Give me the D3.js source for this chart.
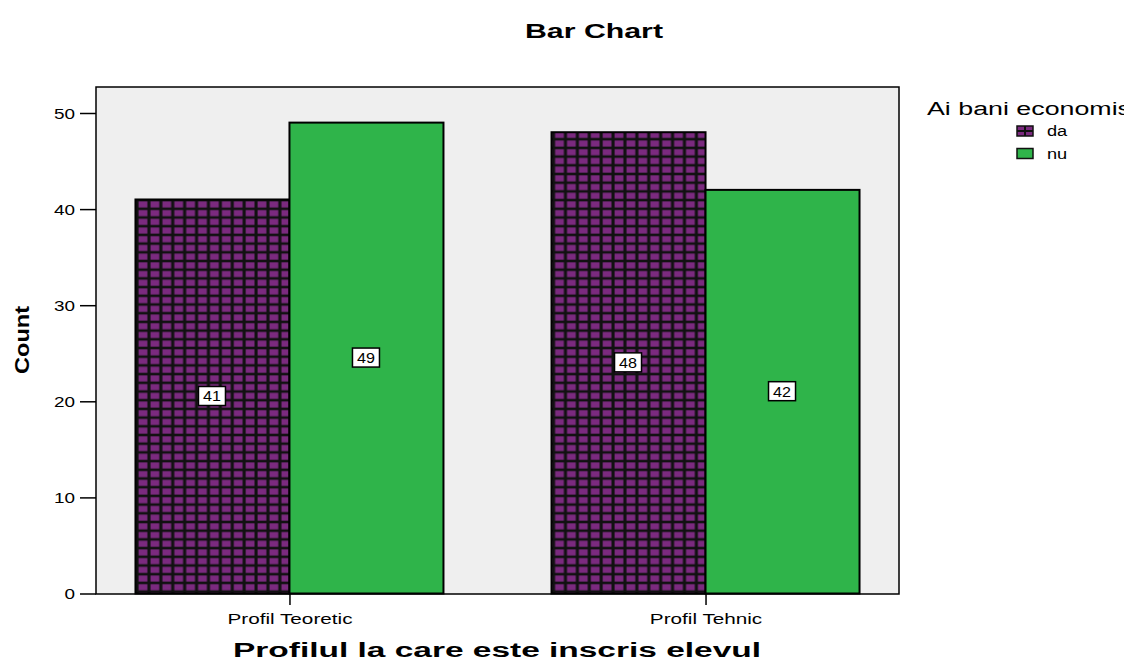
<!DOCTYPE html>
<html><head><meta charset="utf-8">
<script src="https://cdn.jsdelivr.net/npm/d3@7"></script>
<style>body{margin:0;background:#fff}svg{display:block}text{font-family:"Liberation Sans",Arial,sans-serif}</style>
</head><body>
<svg id="c" width="1124" height="660"></svg>
<script>
const categories = ["Profil Teoretic", "Profil Tehnic"];
const seriesNames = ["da", "nu"];
const daValues = [41, 48];
const nuValues = [49, 42];
const yTicks = [0, 10, 20, 30, 40, 50];

const svg = d3.select("#c");
const L = 96, R = 899, T = 87, B = 594;

function stretch(sel, f) {
  sel.each(function(){
    const w = this.getComputedTextLength();
    d3.select(this).attr("textLength", w * f).attr("lengthAdjust", "spacingAndGlyphs");
  });
}
function fitTo(sel, w) {
  sel.attr("textLength", w).attr("lengthAdjust", "spacingAndGlyphs");
}

const defs = svg.append("defs");
const pat = defs.append("pattern").attr("id","grid").attr("patternUnits","userSpaceOnUse")
  .attr("width",11.9).attr("height",8.7).attr("x",137).attr("y",0);
pat.append("rect").attr("width",11.9).attr("height",8.7).attr("fill","#111");
pat.append("rect").attr("x",1.6).attr("y",1.3).attr("width",8.8).attr("height",6.1).attr("fill","#7b2a7f");

const y = d3.scaleLinear().domain([0, 50]).range([B - 0.5, 113]);
const x = d3.scalePoint().domain(categories).range([L, R]).padding(0.465);
const xs = d3.scaleBand().domain(seriesNames).range([-154, 154]).padding(0);

svg.append("rect").attr("x",L).attr("y",T).attr("width",R-L).attr("height",B-T)
  .attr("fill","#efefef").attr("stroke","#000").attr("stroke-width",1.5);

const data = [];
categories.forEach((c,i)=>{
  data.push({cat:c, s:"da", v:daValues[i]});
  data.push({cat:c, s:"nu", v:nuValues[i]});
});

svg.append("g").selectAll("rect").data(data).join("rect")
  .attr("x", d => x(d.cat) + xs(d.s))
  .attr("y", d => y(d.v))
  .attr("width", xs.bandwidth())
  .attr("height", d => y(0) - y(d.v))
  .attr("fill", d => d.s === "da" ? "url(#grid)" : "#2fb44a")
  .attr("stroke", "#000").attr("stroke-width", 2);

// value labels
const lg = svg.append("g").selectAll("g").data(data).join("g")
  .attr("transform", d => `translate(${x(d.cat) + xs(d.s) + xs.bandwidth()/2 - 0.5},${y(d.v/2)})`);
lg.append("rect").attr("x",-13.5).attr("y",-10).attr("width",27).attr("height",19)
  .attr("fill","#fff").attr("stroke","#000").attr("stroke-width",1.5);
const vt = lg.append("text").attr("text-anchor","middle").attr("y",5).attr("font-size",14).text(d=>d.v);
stretch(vt, 1.15);

// y axis
const ya = svg.append("g").attr("transform",`translate(${L},0)`)
  .call(d3.axisLeft(y).tickValues(yTicks).tickSize(16).tickPadding(5));
ya.select(".domain").remove();
ya.selectAll(".tick line").attr("stroke","#000").attr("stroke-width",1.5);
const yt = ya.selectAll(".tick text").attr("font-size",14).attr("dy","0.36em")
  .attr("font-family","Liberation Sans, Arial, sans-serif").attr("fill","#000");
stretch(yt, 1.35);

// x axis
const xa = svg.append("g").attr("transform",`translate(0,${B})`)
  .call(d3.axisBottom(x).tickSize(11).tickPadding(8));
xa.select(".domain").remove();
xa.selectAll(".tick line").attr("stroke","#000").attr("stroke-width",1.5);
const xt = xa.selectAll(".tick text").attr("font-size",15)
  .attr("font-family","Liberation Sans, Arial, sans-serif").attr("fill","#000");
stretch(xt, 1.38);

// titles
const t1 = svg.append("text").attr("x",594).attr("y",38).attr("text-anchor","middle")
  .attr("font-size",20).attr("font-weight","bold").text("Bar Chart");
fitTo(t1, 138);
const t2 = svg.append("text").attr("x",497).attr("y",657).attr("text-anchor","middle")
  .attr("font-size",20).attr("font-weight","bold").text("Profilul la care este inscris elevul");
fitTo(t2, 528);
const t3 = svg.append("text").attr("transform","translate(29,340) rotate(-90)").attr("text-anchor","middle")
  .attr("font-size",20).attr("font-weight","bold").text("Count");
fitTo(t3, 68);

// legend
const lt = svg.append("text").attr("x",927).attr("y",115).attr("font-size",18).text("Ai bani economis");
fitTo(lt, 204);
const leg = svg.append("g").selectAll("g").data(seriesNames).join("g")
  .attr("transform",(d,i)=>`translate(1017,${126 + i*22.5})`);
leg.append("rect").attr("width",16).attr("height",10)
  .attr("fill", d => d === "da" ? "#7b2a7f" : "#2fb44a").attr("stroke","#111").attr("stroke-width",1.5);
leg.filter(d=>d==="da").append("path").attr("d","M8,0V10M0,5H16").attr("stroke","#111").attr("stroke-width",2);
const ltx = leg.append("text").attr("x",30).attr("y",10).attr("font-size",14).text(d=>d);
stretch(ltx, 1.3);
</script>
</body></html>
